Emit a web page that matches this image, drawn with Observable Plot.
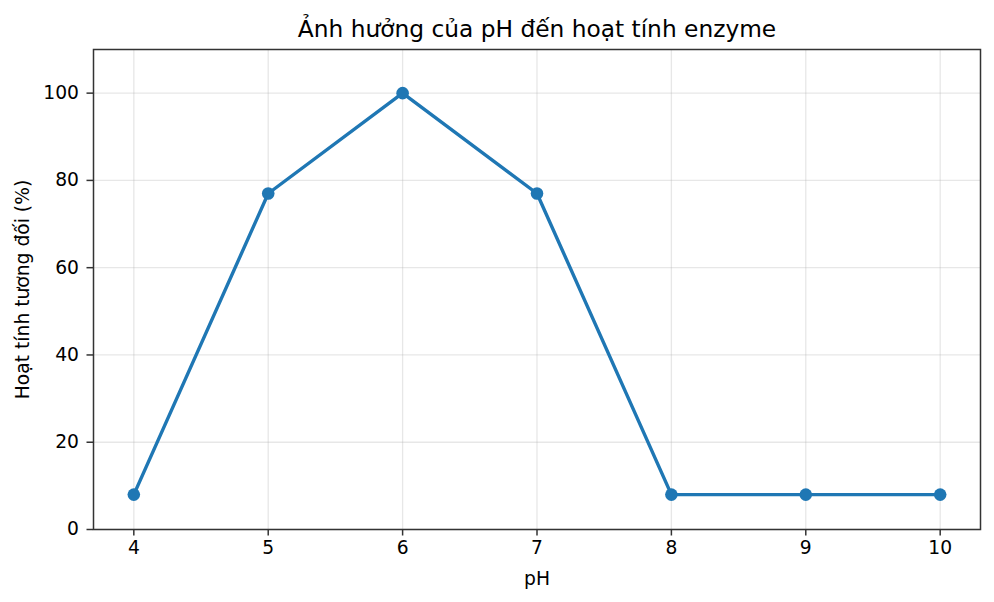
<!DOCTYPE html>
<html>
<head>
<meta charset="utf-8">
<script src="https://cdn.jsdelivr.net/npm/d3@7"></script>
<script src="https://cdn.jsdelivr.net/npm/@observablehq/plot@0.6"></script>
<style>
  html, body { margin: 0; padding: 0; background: #fff; }
  svg { font-family: "DejaVu Sans", sans-serif; }
</style>
</head>
<body>
<div id="chart"></div>
<script>
const pH = [4, 5, 6, 7, 8, 9, 10];
const activity = [8, 77, 100, 77, 8, 8, 8];
const xTicks = [4, 5, 6, 7, 8, 9, 10];
const yTicks = [0, 20, 40, 60, 80, 100];
const title = "Ảnh hưởng của pH đến hoạt tính enzyme";
const xLabel = "pH";
const yLabel = "Hoạt tính tương đối (%)";

const data = pH.map((p, i) => ({pH: p, activity: activity[i]}));
const color = "#1f77b4";
const fs = 18.7;

const chart = Plot.plot({
  width: 994,
  height: 602,
  marginLeft: 93,
  marginRight: 14,
  marginTop: 49,
  marginBottom: 73,
  style: {fontFamily: "DejaVu Sans, sans-serif", fontSize: fs + "px", color: "#000", background: "#fff"},
  x: {domain: [3.7, 10.3], ticks: xTicks},
  y: {domain: [0, 110], ticks: yTicks},
  marks: [
    Plot.gridX(xTicks, {stroke: "#b0b0b0", strokeOpacity: 0.3, strokeWidth: 1.3}),
    Plot.gridY(yTicks, {stroke: "#b0b0b0", strokeOpacity: 0.3, strokeWidth: 1.3}),
    Plot.axisX(xTicks, {tickSize: 6.5, tickPadding: 5, strokeWidth: 1.5, fontSize: fs, stroke: "#333", fill: "#000", tickFormat: "d",
      label: xLabel, labelAnchor: "center", labelArrow: "none", labelOffset: 55}),
    Plot.axisY(yTicks, {tickSize: 6.5, tickPadding: 8, strokeWidth: 1.5, fontSize: fs, stroke: "#333", fill: "#000", tickFormat: "d",
      label: yLabel, labelAnchor: "center", labelArrow: "none", labelOffset: 78}),
    Plot.frame({stroke: "#333", strokeWidth: 1.5}),
    Plot.line(data, {x: "pH", y: "activity", stroke: color, strokeWidth: 3.4}),
    Plot.dot(data, {x: "pH", y: "activity", fill: color, r: 6.3, stroke: "none"}),
    Plot.text([title], {frameAnchor: "top", lineAnchor: "middle", dy: -20, fontSize: 23.3, fill: "#000"})
  ]
});
document.getElementById("chart").appendChild(chart);
</script>
</body>
</html>
